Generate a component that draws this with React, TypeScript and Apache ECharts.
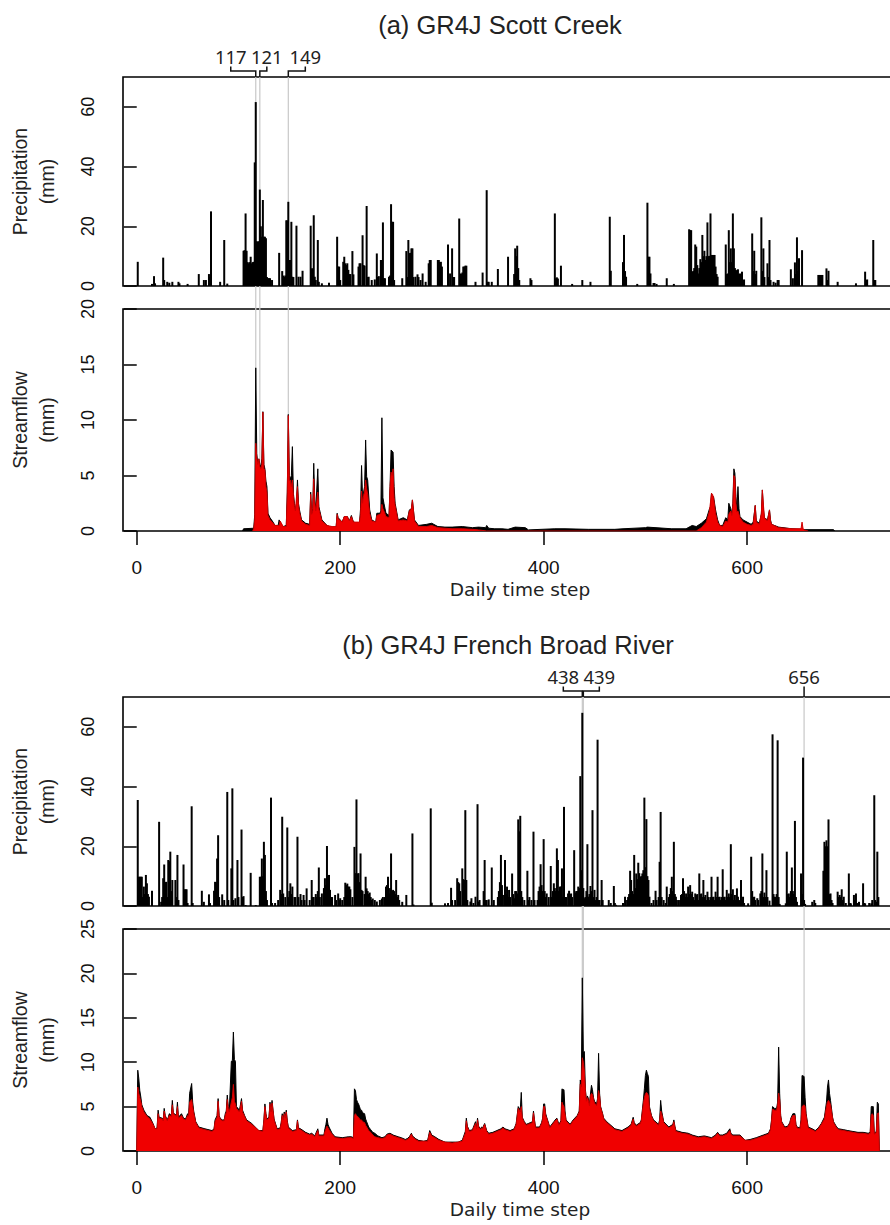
import React, { useEffect, useRef } from "react";
import * as echarts from "echarts";

// ---------------- DATA ----------------
const xTicks = [0, 200, 400, 600];
const precipTicks = [0, 20, 40, 60];
const flowTicksA = [0, 5, 10, 15, 20];
const flowTicksB = [0, 5, 10, 15, 20, 25];

const titleA = "(a) GR4J Scott Creek";
const titleB = "(b) GR4J French Broad River";
const precipName = ["Precipitation", "(mm)"];
const flowName = ["Streamflow", "(mm)"];
const xName = "Daily time step";

// highlighted days
const marksA = [117, 121, 149];
const marksB = [438, 439, 656];

// Precipitation, panel (a): [day, mm]
const precipA: [number, number][] = [
  [1,8.1],[15,0.7],[17,3.3],[18,0.9],[26,9.5],[27,2],[30,1.4],[32,1.1],[35,1.4],[41,1.4],[42,0.9],[50,0.7],[61,4],[66,2],[68,2],[71,4],[72,3],[73,25],[82,1.4],[86,15.4],[89,0.8],
  [105,11.8],[106,12],[107,24.3],[108,11.8],[109,8],[110,7.6],[111,8],[112,9.8],[113,7.6],[114,8],[115,8.1],[116,41.4],[117,61.6],[118,15],[119,14.8],[120,15],[121,32.3],[122,20],[123,16.5],[124,28.8],[125,16.5],[126,16.5],[127,16],[128,3],[129,2.6],[130,2.6],[131,2.6],[133,2],
  [140,11.1],[143,5],[144,3.5],[145,3],[146,3.5],[147,22],[148,22],[149,28.2],[150,8.7],[151,8.7],[152,21.5],[153,3.1],[154,3],[157,20.2],[159,3.1],[161,3.1],[163,5.1],[171,20.2],[172,5.9],[173,5.9],[174,23.7],[175,3.1],[176,2],[178,15.4],[179,1.4],[182,0.9],[189,1.1],
  [197,16.5],[198,6.5],[199,6.5],[200,2],[203,8.1],[204,9.8],[205,7.6],[206,7],[207,7.6],[208,5.4],[209,4],[210,4],[212,11.7],[213,3.9],[218,6.5],[219,7.6],[220,7.6],[222,17],[223,7],[224,6.8],[226,26.8],[227,3],[228,3.1],[231,2],[234,2.2],[236,10.9],[237,3],[238,3.3],[240,8.7],[241,8.7],[242,21.3],[243,2.6],[244,2.6],[248,3.1],[249,3.5],[250,27.4],[251,21.5],[252,21.5],[253,2],
  [261,2.6],[265,11.7],[266,3],[267,15.4],[268,11],[269,11.1],[270,12.6],[271,12.6],[272,3],[274,3.1],[276,3.9],[277,3],[279,2],[281,4.2],[284,1.4],[287,7.6],[288,8.7],[289,8.7],[296,8.7],[297,8.7],[298,8],[299,8.1],[300,6.5],
  [306,13.9],[308,4.2],[310,12.6],[311,3],[312,3],[317,22.6],[318,4.2],[319,4],[320,4.5],[321,6.5],[322,6.5],[323,6.8],[324,6.8],[333,1.4],[340,4.5],[344,32.1],[345,1.4],[346,1.4],[349,1.4],[355,5.7],[365,9.8],[371,4],[372,12.6],[373,10],[374,13.5],[375,6],[376,2],[387,2.6],[388,2],
  [411,24.3],[412,2.6],[413,2.9],[414,2.5],[417,6.8],[428,0.7],[438,2],[446,1.4],[465,23.2],[466,5.1],[478,8],[479,17.1],[480,5],[481,3.1],[492,0.7],[502,27.9],[503,9.8],[504,9.8],[505,4.2],[508,1],[509,1],[511,0.7],[521,2.6],[528,0.7],
  [543,19],[544,18.7],[545,18.7],[546,4.8],[547,5],[548,6],[549,13.9],[550,13.2],[551,7],[552,4.2],[553,6],[554,9],[555,8],[556,17.1],[557,10],[558,11.8],[559,8.7],[560,10],[561,21.3],[562,10],[563,10.1],[564,24.3],[565,10.4],[566,10.4],[567,10.4],[568,10.4],[569,6.5],[570,4],[571,3.1],
  [579,13.9],[580,4],[581,4.2],[582,18.7],[583,8],[584,12.6],[585,8],[586,24.3],[587,12.6],[588,6],[589,5.4],[590,5],[591,5.6],[592,4],[593,4.2],[594,3],[595,4.8],[596,2],[597,2.2],
  [605,17.6],[606,5],[607,11.8],[608,4],[609,5.1],[614,23],[615,5],[616,12.6],[617,3],[620,7.6],[621,3],[622,15.4],[623,2],[626,1.4],[628,1.1],[630,2],[631,2],
  [643,5.6],[645,2.6],[647,7.9],[648,4],[649,16.3],[650,5],[651,9.3],[654,12],[670,3.7],[671,3.7],[672,3.7],[673,3.7],[674,3.7],[678,5.9],[679,2],[680,5.1],[689,1.4],[707,0.9],[716,4.8],[717,2],[718,2.2],[724,15.4],[725,2],[726,2]
];

// Streamflow, panel (a): observed (black) [day, mm]
const obsA: [number, number][] = [
  [104,0],[105,0.2],[115,0.25],[116,1.5],[117,14.7],[118,7],[119,6],[120,6.5],[121,6],[122,5.8],[123,6.5],[124,10.75],[125,6],[126,5.6],[127,4.5],[128,4],[129,1.6],[131,1.2],[134,0.8],[136,0.5],[139,0.5],[140,1],[141,0.6],[144,0.4],[147,0.5],
  [148,3.5],[149,10.5],[150,5],[151,4.7],[152,5],[153,7.6],[154,3.4],[155,2.5],[156,1.9],[157,2.5],[158,4.6],[159,2.5],[160,1.9],[162,1],[166,0.7],[170,0.6],[171,3.5],[172,1.6],[173,2],[174,6.1],[175,2.8],[176,2],[178,5.6],[179,2.2],[182,1],[187,0.5],[192,0.3],
  [196,0.3],[197,1.6],[198,1.2],[202,0.8],[204,1.3],[207,1.3],[209,0.9],[211,1.4],[213,0.8],[219,0.7],[220,2],[221,5.9],[222,3],[223,3.5],[224,4],[225,8.2],[226,4.9],[227,4.6],[229,1.9],[231,1],[235,0.8],[236,1.6],[239,1.6],[240,1.8],[241,10.2],[242,3],[243,2.5],[245,1.6],
  [248,1.4],[249,4],[250,7.3],[251,7.2],[252,7.1],[253,4],[254,2.5],[257,1],[262,1.2],[266,1],[268,1.9],[270,2],[271,2.8],[273,1],[277,0.5],[285,0.6],[290,0.7],[296,0.4],[303,0.35],[310,0.35],[320,0.4],[330,0.3],[336,0.35],[343,0.3],[344,0.5],[346,0.25],
  [352,0.2],[359,0.2],[365,0.15],[372,0.35],[382,0.3],[385,0.1],[411,0.2],[421,0.2],[444,0.15],[470,0.15],[478,0.2],[500,0.3],[502,0.35],[526,0.2],[540,0.2],[546,0.5],[550,0.4],[555,0.7],[560,1.1],[563,2],[564,2.2],[565,3.4],[566,2.8],[567,3.1],[569,1.9],[571,1],[573,0.5],[576,0.5],
  [579,1.2],[581,1],[582,2.5],[584,2],[585,1.5],[586,2.5],[587,5.6],[588,5.2],[589,3.1],[590,2],[591,4],[592,2],[593,1.3],[596,1],[600,0.8],[604,0.6],[606,0.8],[608,2.3],[609,0.9],[612,0.7],[614,1.5],[615,3.7],[616,2],[617,1.2],[620,1],[622,1.9],[623,1],[624,0.6],
  [631,0.35],[644,0.2],[654,0.15],[657,0.12],[685,0.12],[686,0]
];

// Streamflow, panel (a): simulated (red) [day, mm]
const simA: [number, number][] = [
  [114,0],[115,0.2],[116,1],[117,7.9],[118,6.6],[119,6],[120,6.5],[121,5.8],[122,5.6],[123,6],[124,10.7],[125,5.6],[126,5.5],[127,4],[128,3.5],[129,1.4],[131,1],[134,0.7],[136,0.5],[139,0.5],[140,0.5],[141,0.9],[144,0.4],[147,0.4],
  [148,3.4],[149,10.4],[150,4.5],[151,4.6],[152,4],[153,4.6],[154,3.2],[155,2.2],[156,1.8],[157,3],[158,4],[159,2.3],[160,1.7],[162,0.9],[166,0.6],[170,0.5],[171,3.3],[172,1.5],[173,1.8],[174,4.7],[175,2.6],[176,1.8],[178,3.5],[179,2],[182,0.9],[187,0.5],[192,0.4],
  [196,0.4],[197,1.5],[198,1.1],[202,0.8],[204,1.3],[207,1.3],[209,0.9],[211,1.3],[213,0.8],[219,0.8],[220,1.5],[221,3.6],[222,2.5],[223,3.2],[224,3.5],[225,4.6],[226,3.8],[227,3.3],[229,1.6],[231,0.9],[235,0.8],[236,1.4],[239,1.5],[240,1.6],[241,2.4],[242,2],[243,1.8],[245,1.3],
  [248,1.2],[249,4],[250,5.3],[251,5],[252,5.6],[253,3],[254,2.3],[257,0.9],[262,1],[266,0.9],[268,1.8],[270,2],[271,2.8],[273,0.9],[277,0.4],[285,0.4],[290,0.5],[296,0.3],[303,0.25],[310,0.2],[320,0.2],[330,0.15],[336,0.1],[344,0],
  [550,0],[555,0.3],[560,0.8],[563,1.8],[564,2.6],[565,3.4],[566,3.3],[567,3],[569,1.6],[571,0.8],[573,0.5],[576,0.4],[579,0.9],[581,0.8],[582,1.5],[584,1.8],[585,1.4],[586,2.3],[587,5],[588,4.8],[589,2.5],[590,1.7],[591,1.8],[592,1.5],[593,1.2],[596,0.8],
  [600,0.6],[604,0.5],[606,0.6],[608,2.3],[609,0.8],[612,0.6],[614,1.6],[615,3.7],[616,2.4],[617,1.2],[620,0.9],[622,1.9],[623,0.9],[624,0.6],[631,0.3],[644,0.2],[653,0.2],[654,0.8],[655,0.2],[657,0.05],[660,0]
];

// Precipitation, panel (b): [day, mm]
const precipB: [number, number][] = [
  [1,35.5],[2,9.8],[3,9.8],[4,9.8],[5,9.8],[6,3],[7,6.5],[8,4],[9,10.4],[10,7.6],[11,4],[12,3.1],[15,5.1],[22,28.2],[24,1.4],[25,3],[26,9.3],[27,13.9],[28,8],[29,8.1],[30,3],[31,15.4],[32,15],[33,18.2],[34,5],[35,8.7],[38,8.7],[39,3],[40,17.1],[41,2],
  [46,13.9],[47,5.6],[48,5.6],[49,5.6],[50,1],[54,33.4],[55,1],[64,5.1],[66,1.4],[71,3.9],[72,1],[76,5.1],[77,8.1],[78,8],[79,15.9],[80,23.7],[81,3],[84,3.9],[86,2],[89,38.2],[90,2],[93,12.6],[94,39.4],[95,2],[97,2.6],[99,15.4],[100,3],[103,25.6],[104,3],[105,3.3],[107,0.3],
  [112,11.1],[117,0.3],[121,9.8],[122,9.8],[123,15.9],[124,10],[125,21.5],[126,17.1],[127,5],[128,2],[132,36.3],[133,1],[136,1],[139,2],[141,5.4],[142,4],[143,29.9],[144,4.2],[146,3],[148,26.3],[149,3],[150,5],[151,7.6],[152,4],[153,6.5],[155,3],[156,3],[158,23.2],[159,3],
  [161,4],[162,2],[164,3.7],[165,2],[167,5.9],[170,2],[172,8.7],[173,3],[174,3],[176,4],[177,3],[178,5],[179,12.9],[180,3],[182,4.2],[184,6],[185,9.3],[186,7],[187,20.1],[188,10],[189,10.4],[190,5.4],[191,3],[192,3],[195,3.7],[196,2],[198,4.2],[199,2],[200,2.6],
  [202,2],[204,3],[205,7.8],[206,7],[207,7.5],[208,6.5],[209,6.5],[210,5.6],[212,3],[214,19.8],[215,11],[216,35.7],[217,10.9],[218,11],[219,8],[220,17.6],[221,5.4],[222,5],[224,4],[225,9.8],[226,5.9],[227,5],[228,4],[229,4.5],[230,3],[231,2],[232,2.5],[234,2],[236,1.5],
  [239,2],[241,2.5],[242,3],[244,3],[245,6.5],[246,7],[247,9.8],[248,4.2],[249,6],[250,17.6],[251,5],[252,5.4],[253,5],[254,4],[255,8.7],[256,3],[257,3.7],[258,2],[261,1.4],[265,3.7],[271,24.3],[272,0.5],[289,32.7],[290,1.1],[303,0.9],
  [306,1],[309,6.1],[310,2],[313,2],[315,9.3],[316,8],[317,7.6],[318,5],[320,12.6],[321,9],[322,8.7],[323,32.1],[324,8.7],[325,2],[328,1.5],[329,2.6],[331,1],[333,3.1],[335,34.1],[336,1.5],[337,2],[341,5],[342,15.4],[343,2],[344,2],[346,2.2],[349,12.9],[351,2],
  [355,3],[356,5],[357,8],[358,17.1],[359,7],[360,3.7],[362,15.4],[363,4],[364,6.5],[365,3],[366,5.4],[367,3],[369,10.9],[370,4],[371,2.6],[372,5],[373,5],[374,4.2],[375,29],[376,25],[377,30.2],[378,5],[379,3],[381,2],[384,11.8],[385,2],[386,3],[388,2],[390,24.9],[391,2],
  [394,2],[395,5],[396,6.5],[397,14],[398,7],[399,5],[400,22.4],[401,5],[402,3],[403,4.2],[405,3],[407,13.4],[408,3],[409,5],[410,7.6],[411,6],[412,5],[413,19.3],[414,15.4],[415,5],[416,6.5],[417,6.5],[418,12.6],[419,3],[420,33.2],[421,3],[422,3],[424,4.2],[425,5.1],
  [426,4],[427,4.2],[428,3],[430,18.7],[431,4.5],[432,5],[433,5],[434,6.5],[435,6],[436,43.5],[437,12],[438,64.7],[439,6],[440,2.6],[441,3],[442,5],[443,20.7],[444,3.1],[445,4],[446,6.7],[447,5],[448,32.1],[449,3],[450,5.4],[451,2],[452,3],[453,55.7],[454,2],[455,2],[457,8.7],[458,2],
  [464,2],[466,1],[469,6.7],[470,1],[471,0.4],[478,1],[480,3.1],[482,2],[483,3],[484,4],[485,11.8],[486,8.7],[487,5],[488,4],[489,17.1],[490,6],[491,10.9],[492,9],[493,14.5],[494,11],[495,9.8],[496,10],[497,10.9],[498,12],[499,36.3],[500,13],[501,29.1],[502,10],[503,8.7],[504,3.1],
  [506,1],[508,2],[510,5.1],[511,2],[513,3],[514,14.8],[515,31.5],[516,3],[518,2],[520,1],[521,6.5],[523,3],[524,4],[525,6],[526,9.8],[527,5],[528,21.5],[529,4],[530,3.1],[531,2],[533,2],[535,3.7],[536,4],[537,9.3],[538,5],[539,3],[540,4.2],[541,3],[542,6.5],[543,4],[544,7],
  [545,4],[546,4.8],[547,3],[548,2],[549,4.2],[550,3.7],[551,4],[552,2],[553,10.9],[554,4],[555,4.2],[556,3],[557,8.7],[558,3],[559,3.7],[560,2],[561,4.8],[562,3],[563,2],[564,3],[565,9.8],[566,3],[567,3.1],[568,2],[569,4.8],[570,3],[571,9.8],[572,3],[573,3.1],[574,2],[575,3],
  [576,12.3],[577,3],[578,3.1],[579,2],[580,5.4],[581,3],[582,4.2],[583,3],[584,20.7],[585,4],[586,5.6],[587,2],[588,3.7],[589,2],[590,5.9],[591,3.1],[592,2],[594,8.7],[595,2],[596,3.1],[597,1],[601,0.9],[604,16.5],[605,5],[606,3],[607,3.1],[608,2],[610,2.6],[611,2],
  [613,4.2],[614,5],[615,17.6],[616,3],[617,4.5],[618,3],[619,12],[620,3],[622,1.8],[625,57.5],[626,4],[627,3.1],[628,3],[629,4],[630,55.5],[631,3],[632,0.7],[638,0.9],[639,18.2],[640,4],[641,4.2],[642,3],[643,5],[644,12.9],[645,5],[646,4],[647,28.5],[648,3],[649,1.4],
  [653,10.9],[654,4],[655,49.7],[656,2],[657,0.7],[664,1.4],[666,2],[667,1],[675,11.8],[676,21.5],[677,20],[678,22],[679,20],[680,29],[681,4],[682,4.2],[683,2],[684,1],[689,4.8],[690,3],[691,3.7],[692,3],[693,5.6],[694,2],[695,3.1],[697,1],[700,10.9],[701,1],[702,0.9],
  [705,3.7],[706,2],[707,4.2],[708,1],[710,1.4],[714,7.6],[715,1],[716,0.9],[720,1],[722,0.9],[723,2],[725,37.1],[726,2],[727,1.4],[728,18.2],[729,3]
];

// Streamflow, panel (b): observed (black) [day, mm]
const obsB: [number, number][] = [
  [0,0],[1,9.1],[2,8.2],[3,6.8],[4,6.1],[5,5.2],[7,4.6],[10,4],[13,3.8],[16,3.1],[18,2.5],[20,2.6],[21,4.6],[22,3.8],[25,3.7],[26,3.5],[27,4.8],[28,4],[30,3.5],[31,3.8],[32,4.2],[34,4],[35,5.7],[36,4.3],[37,4.2],[39,4],[40,5.5],[41,3.8],[44,4.2],[46,3.7],[48,3.6],
  [50,4.2],[51,4],[52,6.5],[54,7.6],[55,5.5],[56,4.5],[58,3.3],[61,2.7],[67,2.5],[74,2.3],[76,2.5],[77,3.5],[79,4],[80,5.9],[81,4],[82,3.7],[84,3.5],[86,3.5],[87,4.2],[88,4.5],[89,6.3],[90,5],[91,4.5],[93,10.1],[94,10.2],[95,13.4],[96,10.3],[97,10.1],[98,5],
  [101,4.6],[103,5.9],[104,4.6],[106,4],[108,3.5],[113,3.1],[120,2.3],[124,2.3],[125,3.5],[126,5.3],[127,4.2],[128,3.6],[130,3.8],[131,5.5],[132,4.5],[133,5.7],[134,4.6],[135,3.6],[138,2.5],[141,2.6],[142,3.2],[143,4.2],[144,3.6],[145,4.4],[146,3.8],[147,4.6],[148,3.4],[149,2.7],
  [153,2.3],[157,2.4],[158,3.5],[159,2.6],[161,2.5],[166,2.1],[170,1.9],[172,2],[175,1.7],[178,2.5],[179,1.8],[180,1.8],[184,1.8],[185,2.5],[186,3],[187,3.7],[188,3],[189,2.7],[192,2],[195,1.6],[202,1.5],[208,1.6],[211,1.6],[213,1.5],
  [214,7],[215,6.8],[216,5.8],[217,5.5],[218,5.3],[219,5],[220,4.6],[221,4.6],[222,4.3],[224,4.2],[225,3.6],[226,3.3],[228,2.7],[230,2.4],[232,2.1],[234,2],[237,1.7],[241,1.5],[244,1.6],[246,1.9],[249,2],[252,1.8],[257,1.6],[260,1.5],[264,1.3],[266,1.4],[268,1.6],[270,2],
  [271,1.7],[274,1.4],[277,1.2],[282,1.1],[286,1.2],[288,2.3],[290,1.8],[293,1.6],[297,1.3],[303,1],[310,1],[316,1],[320,1.2],[323,2.2],[324,3.7],[325,2.8],[327,2.3],[330,2.4],[333,3.3],[334,2.6],[335,3.7],[336,2.8],[338,2.5],[339,2.7],[340,2.6],[342,3.1],[344,2.3],[346,2],
  [350,2.1],[354,2.3],[358,2.5],[360,2.7],[362,2.5],[367,2.3],[371,2.5],[373,3.1],[375,5],[377,4.6],[378,6.6],[379,3.8],[381,3.3],[383,3],[385,3.1],[387,3.2],[389,3.3],[390,4.5],[391,3.5],[392,2.7],[396,2.7],[398,3.2],[399,3.7],[400,5.3],[401,5.3],[402,4.2],[403,3.8],
  [406,2.7],[410,3.3],[412,3.6],[413,3.7],[415,3],[417,3.4],[418,7],[419,6.9],[420,6.9],[421,4.5],[422,3.5],[426,3],[429,3.5],[433,4],[435,4.5],[436,8],[437,7.5],[438,19.5],[439,11],[440,11.2],[441,7],[442,5.7],[443,6.2],[444,5.9],[445,5.2],[446,6.4],[447,7.4],[448,6.9],
  [449,6],[450,5.6],[452,5.3],[453,5.9],[454,11],[455,6.5],[456,5],[458,4.2],[459,3.7],[462,3.3],[464,3.1],[470,2.5],[477,2.3],[483,2.7],[486,3],[488,3.8],[489,3.2],[491,2.9],[495,3.2],[496,3.5],[498,5.7],[499,7],[500,8.5],[501,9.1],[502,8.7],[503,8.4],[504,5],
  [506,4],[508,3.5],[513,3],[514,3.5],[515,5.7],[516,4.5],[518,3.3],[523,2.7],[527,3],[528,3.5],[529,2.8],[530,2.3],[536,2.1],[542,2],[546,1.8],[552,1.6],[558,1.7],[565,1.5],[569,1.8],[571,2.1],[573,1.8],[576,1.8],[580,2],[583,2.5],[584,2],[586,1.8],[593,1.8],
  [598,1.2],[603,1.3],[609,1.5],[616,1.8],[621,2],[623,2.5],[624,3.5],[625,5],[627,4.8],[629,4.8],[630,5.5],[631,11.7],[632,6.5],[633,4],[634,3.3],[637,2.7],[640,2.8],[642,3.2],[643,3.7],[645,4.2],[647,4.2],[648,3],[649,2.7],[652,2.6],[653,3.5],[654,8.5],[656,8.4],
  [657,6],[658,4.2],[660,2.7],[664,2.5],[667,2.3],[670,2.6],[673,3.1],[676,3.8],[678,5.5],[679,7.2],[680,8],[681,6.5],[682,5.7],[684,3.8],[685,3.3],[688,2.7],[690,2.5],[695,2.4],[699,2.3],[704,2.2],[709,2.1],[714,2.1],[719,2],[721,2.1],[722,5],[723,5],[724,5],[725,2],
  [727,2.2],[728,5.5],[729,5.3],[730,0]
];

// Streamflow, panel (b): simulated (red) [day, mm]
const simB: [number, number][] = [
  [0,0],[1,7.2],[2,6.5],[3,6],[4,5.6],[5,5],[7,4.4],[10,3.9],[13,3.6],[16,3],[18,2.5],[20,2.5],[21,4.2],[22,3.7],[25,3.6],[26,3.4],[27,4.5],[28,3.9],[30,3.4],[31,3.7],[32,4],[34,3.9],[35,5.2],[36,4.2],[37,4.1],[39,3.9],[40,5],[41,3.7],[44,4],[46,3.6],[48,3.5],
  [50,4],[51,3.9],[52,5.5],[54,5.8],[55,5],[56,4.3],[58,3.2],[61,2.6],[67,2.4],[74,2.2],[76,2.4],[77,3.3],[79,3.8],[80,5.6],[81,3.9],[82,3.6],[84,3.4],[86,3.4],[87,4],[88,4.3],[89,5.8],[90,4.8],[91,4.4],[93,5.5],[94,6],[95,7.5],[96,5.6],[97,5.3],[98,4.8],
  [101,4.4],[103,5.6],[104,4.4],[106,3.9],[108,3.4],[113,3],[120,2.3],[124,2.2],[125,3.4],[126,5],[127,4.1],[128,3.5],[130,3.7],[131,5.3],[132,4.4],[133,5.4],[134,4.5],[135,3.5],[138,2.4],[141,2.5],[142,3.1],[143,4],[144,3.5],[145,4.2],[146,3.7],[147,4.4],[148,3.3],[149,2.6],
  [153,2.2],[157,2.3],[158,3.4],[159,2.5],[161,2.4],[166,2],[170,1.8],[172,1.9],[175,1.6],[178,2.3],[179,1.7],[180,1.7],[184,1.7],[185,2.2],[186,2.5],[187,2.8],[188,2.6],[189,2.4],[192,1.9],[195,1.5],[202,1.4],[208,1.5],[211,1.5],[213,1.4],
  [214,4],[215,4.2],[216,4],[217,3.9],[218,3.8],[219,3.6],[220,3.5],[221,3.5],[222,3.3],[224,3.2],[225,2.9],[226,2.7],[228,2.3],[230,2.1],[232,1.8],[234,1.6],[237,1.5],[241,1.4],[244,1.5],[246,1.8],[249,1.9],[252,1.7],[257,1.5],[260,1.4],[264,1.2],[266,1.3],[268,1.5],[270,1.9],
  [271,1.6],[274,1.3],[277,1.1],[282,1.1],[286,1.1],[288,2.1],[290,1.7],[293,1.5],[297,1.2],[303,1],[310,0.9],[316,1],[320,1.1],[323,2],[324,3.4],[325,2.7],[327,2.2],[330,2.3],[333,3.1],[334,2.5],[335,3.5],[336,2.7],[338,2.4],[339,2.6],[340,2.5],[342,3],[344,2.2],[346,1.9],
  [350,2],[354,2.2],[358,2.4],[360,2.6],[362,2.4],[367,2.2],[371,2.4],[373,3],[375,4.8],[377,4.4],[378,5],[379,3.7],[381,3.2],[383,2.9],[385,3],[387,3.1],[389,3.2],[390,4.3],[391,3.4],[392,2.6],[396,2.6],[398,3.1],[399,3.5],[400,5],[401,5],[402,4],[403,3.7],
  [406,2.6],[410,3.2],[412,3.5],[413,3.6],[415,2.9],[417,3.3],[418,5.5],[419,5.2],[420,5],[421,4.2],[422,3.4],[426,2.9],[429,3.4],[433,3.9],[435,4.4],[436,7.5],[437,7.2],[438,10.5],[439,10],[440,9],[441,6.8],[442,5.6],[443,6],[444,5.7],[445,5.1],[446,6.2],[447,6.5],[448,6.4],
  [449,5.8],[450,5.4],[452,5.1],[453,5.7],[454,6.8],[455,6.2],[456,4.9],[458,4.1],[459,3.6],[462,3.2],[464,3],[470,2.4],[477,2.2],[483,2.6],[486,2.9],[488,3.6],[489,3.1],[491,2.8],[495,3.1],[496,3.4],[498,5.3],[499,6],[500,6.4],[501,6.6],[502,6.5],[503,6.2],[504,4.8],
  [506,3.9],[508,3.4],[513,2.9],[514,3.4],[515,4.5],[516,4.2],[518,3.2],[523,2.6],[527,2.9],[528,3.3],[529,2.7],[530,2.2],[536,2],[542,1.9],[546,1.7],[552,1.5],[558,1.6],[565,1.4],[569,1.7],[571,2],[573,1.7],[576,1.7],[580,1.9],[583,2.3],[584,1.9],[586,1.7],[593,1.7],
  [598,1.2],[603,1.2],[609,1.4],[616,1.7],[621,1.9],[623,2.4],[624,3.3],[625,4.7],[627,4.6],[629,4.6],[630,5.2],[631,6.5],[632,5.8],[633,3.9],[634,3.2],[637,2.6],[640,2.7],[642,3.1],[643,3.6],[645,4],[647,4],[648,2.9],[649,2.6],[652,2.5],[653,3.3],[654,5],[656,5.2],
  [657,5],[658,4],[660,2.6],[664,2.4],[667,2.2],[670,2.5],[673,3],[676,3.6],[678,5],[679,5.5],[680,5.7],[681,5.5],[682,5.2],[684,3.7],[685,3.2],[688,2.6],[690,2.4],[695,2.3],[699,2.2],[704,2.1],[709,2],[714,2],[719,1.9],[721,2],[722,4],[723,4.2],[724,4],[725,1.9],
  [727,2.1],[728,4.2],[729,4.3],[730,0]
];

// ---------------- LAYOUT ----------------
const CHART_W = 930;
const CHART_H = 1225;
const X_MIN = -13.5;
const X_MAX = 767;
const GRID_LEFT = 123;
const GRID_W = 794;
const GRID_BOXES = [
  { top: 77, height: 209 },
  { top: 309, height: 222 },
  { top: 697, height: 209 },
  { top: 929, height: 222 },
];
const Y_MAX = [70, 20, 70, 25];
const Y_TICKS = [precipTicks, flowTicksA, precipTicks, flowTicksB];
const Y_LABEL_X = 88;
// label offsets (px) of the highlighted-day labels relative to their guide lines
const MARK_DX_A = [-25, 7, 17];
const MARK_DX_B = [-19, 16, 0];

const SANS = "Liberation Sans, Arial, sans-serif";
const UI = "Noto Sans, DejaVu Sans, sans-serif";

export default function App() {
  const ref = useRef<HTMLDivElement>(null);

  useEffect(() => {
    if (!ref.current) return;
    const chart = echarts.init(ref.current, null, { renderer: "svg", width: CHART_W, height: CHART_H });

    const grid = GRID_BOXES.map((g) => ({
      left: GRID_LEFT,
      width: GRID_W,
      top: g.top,
      height: g.height,
      show: true,
      borderColor: "#000",
      borderWidth: 1.6,
      backgroundColor: "transparent",
      containLabel: false,
      outerBoundsMode: "none",
    }));

    const xAxis = GRID_BOXES.map((_, i) => {
      const showAx = i % 2 === 1;
      return {
        type: "value",
        gridIndex: i,
        min: X_MIN,
        max: X_MAX,
        splitLine: { show: false },
        axisLine: { show: false },
        axisTick: {
          show: showAx,
          customValues: xTicks,
          length: 14,
          lineStyle: { color: "#000", width: 1.5 },
        },
        axisLabel: {
          show: showAx,
          customValues: xTicks,
          margin: 27,
          fontSize: 19,
          fontFamily: SANS,
          color: "#111",
        },
      };
    });

    const yAxis = GRID_BOXES.map((_, i) => ({
      type: "value",
      gridIndex: i,
      min: 0,
      max: Y_MAX[i],
      splitLine: { show: false },
      axisLine: { show: false },
      axisTick: {
        show: true,
        customValues: Y_TICKS[i],
        length: 13,
        lineStyle: { color: "#000", width: 1.5 },
      },
      axisLabel: { show: false },
    }));

    const barSeries = (idx: number, data: [number, number][]) => ({
      type: "bar",
      xAxisIndex: idx,
      yAxisIndex: idx,
      data,
      barWidth: 2,
      itemStyle: { color: "#000" },
      z: 3,
    });
    const areaSeries = (idx: number, data: [number, number][], color: string, line: string, z: number) => ({
      type: "line",
      xAxisIndex: idx,
      yAxisIndex: idx,
      data,
      symbol: "none",
      showSymbol: false,
      lineStyle: { color: line, width: 1 },
      areaStyle: { color, opacity: 1 },
      z,
    });

    chart.setOption({
      animation: false,
      backgroundColor: "#fff",
      grid,
      xAxis,
      yAxis,
      series: [
        barSeries(0, precipA),
        areaSeries(1, obsA, "#000", "#000", 3),
        areaSeries(1, simA, "#f00000", "#d00000", 4),
        barSeries(2, precipB),
        areaSeries(3, obsB, "#000", "#000", 3),
        areaSeries(3, simB, "#f00000", "#d00000", 4),
      ],
    });

    const px = (axis: number, v: number) => chart.convertToPixel({ xAxisIndex: axis } as any, v) as number;
    const py = (axis: number, v: number) => chart.convertToPixel({ yAxisIndex: axis } as any, v) as number;

    const elements: any[] = [];

    // rotated y tick labels (read bottom-to-top, like R's las = 0)
    Y_TICKS.forEach((ticks, ai) => {
      ticks.forEach((v) => {
        elements.push({
          type: "text",
          x: Y_LABEL_X,
          y: py(ai, v),
          rotation: Math.PI / 2,
          style: { text: String(v), fontSize: 18, fontFamily: SANS, fill: "#111", textAlign: "center", textVerticalAlign: "middle" },
        });
      });
    });

    const addTitle = (text: string, cx: number, cy: number) =>
      elements.push({
        type: "text",
        x: cx,
        y: cy,
        style: { text, fontSize: 25.5, fontFamily: SANS, fill: "#222", textAlign: "center", textVerticalAlign: "middle" },
      });
    addTitle(titleA, 500, 25);
    addTitle(titleB, 508, 645);

    const addYName = (lines: string[], gi: number) => {
      const cy = GRID_BOXES[gi].top + GRID_BOXES[gi].height / 2;
      [20, 47].forEach((cx, k) =>
        elements.push({
          type: "text",
          x: cx,
          y: cy,
          rotation: Math.PI / 2,
          style: { text: lines[k], fontSize: 19.5, fontFamily: SANS, fill: "#222", textAlign: "center", textVerticalAlign: "middle" },
        })
      );
    };
    addYName(precipName, 0);
    addYName(flowName, 1);
    addYName(precipName, 2);
    addYName(flowName, 3);

    const addXName = (gi: number) => {
      const g = GRID_BOXES[gi];
      elements.push({
        type: "text",
        x: GRID_LEFT + GRID_W / 2,
        y: g.top + g.height + 58,
        style: { text: xName, fontSize: 18.5, fontFamily: "DejaVu Sans, sans-serif", fill: "#222", textAlign: "center", textVerticalAlign: "middle" },
      });
    };
    addXName(1);
    addXName(3);

    const addMarks = (days: number[], dxs: number[], pAxis: number, fAxis: number) => {
      const top = py(pAxis, Y_MAX[pAxis]);
      const bottom = py(fAxis, 0);
      const by = top - 6;
      days.forEach((d, k) => {
        const lx = px(pAxis, d);
        const tx = lx + dxs[k];
        elements.push({
          type: "line",
          shape: { x1: lx, y1: top, x2: lx, y2: bottom },
          style: { stroke: "#c8c8c8", lineWidth: 1.2 },
          z: 1,
        });
        const pts = tx === lx ? [[lx, by - 4.5], [lx, top]] : [[tx, by - 4.5], [tx, by], [lx, by], [lx, top]];
        elements.push({
          type: "polyline",
          shape: { points: pts },
          style: { stroke: "#111", lineWidth: 1.5, fill: null },
          z: 5,
        });
        elements.push({
          type: "text",
          x: tx,
          y: top - 20.5,
          style: { text: String(d), fontSize: 18.5, fontFamily: UI, fill: "#222", textAlign: "center", textVerticalAlign: "middle" },
          z: 5,
        });
      });
    };
    addMarks(marksA, MARK_DX_A, 0, 1);
    addMarks(marksB, MARK_DX_B, 2, 3);

    chart.setOption({ graphic: { elements } });

    return () => chart.dispose();
  }, []);

  return (
    <div style={{ position: "fixed", left: 0, top: 0, width: 890, height: CHART_H, overflow: "hidden", background: "#fff" }}>
      <div ref={ref} style={{ width: CHART_W, height: CHART_H }} />
    </div>
  );
}
